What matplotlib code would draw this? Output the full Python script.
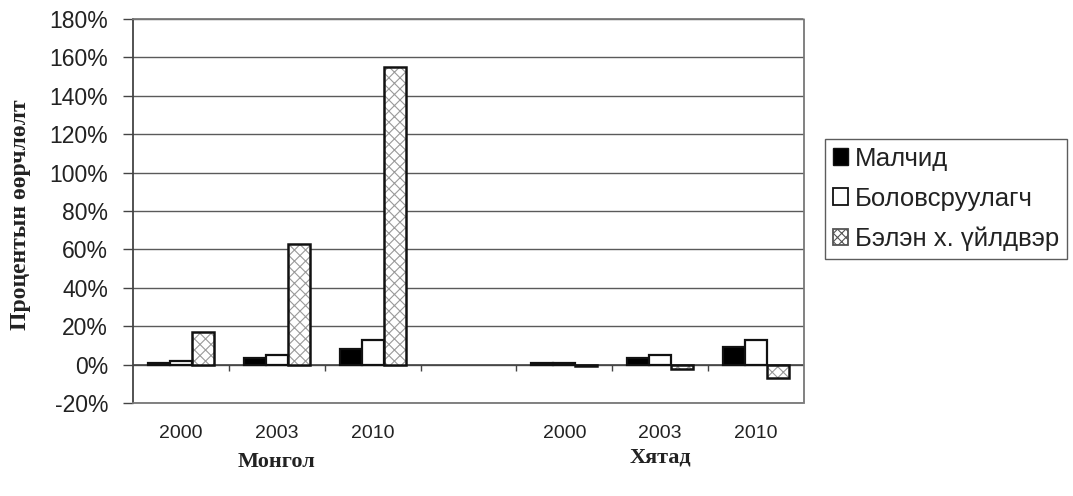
import matplotlib
matplotlib.use("Agg")
import matplotlib.pyplot as plt
import numpy as np
from matplotlib.transforms import blended_transform_factory
from matplotlib.patches import Patch

# Percentage change by value-chain segment, Mongolia vs China
years = ["2000", "2003", "2010"]
countries = ["Монгол", "Хятад"]
series_names = ["Малчид", "Боловсруулагч", "Бэлэн х. үйлдвэр"]

herders_mn = [1, 3.5, 8]
processors_mn = [2, 5, 13]
manufacturing_mn = [17, 63, 155]

herders_cn = [1, 3.5, 9]
processors_cn = [1, 5, 13]
manufacturing_cn = [-0.5, -2.5, -7]

y_ticks = [-20, 0, 20, 40, 60, 80, 100, 120, 140, 160, 180]

plt.rcParams["hatch.linewidth"] = 0.8

fig = plt.figure(figsize=(10.73, 4.96), dpi=100)
ax = fig.add_axes([133 / 1073, 1 - 403 / 496, (804 - 133) / 1073, (403 - 19) / 496])

# category slots: three Mongolian years, an empty slot, three Chinese years
mn_pos = np.arange(3)
cn_pos = np.arange(3) + 4
positions = np.concatenate([mn_pos, cn_pos])
labels = years + years

bw = 0.23
series = [
    (herders_mn + herders_cn, "black", None),
    (processors_mn + processors_cn, "white", None),
    (manufacturing_mn + manufacturing_cn, "white", "xxx"),
]
for i, (vals, fc, hatch) in enumerate(series):
    xs = positions + (i - 1) * bw
    if hatch:
        ax.bar(xs, vals, width=bw, color="white", edgecolor="#9a9a9a",
               hatch=hatch, linewidth=0, zorder=3)
        ax.bar(xs, vals, width=bw, fill=False, edgecolor="#111111",
               linewidth=1.8, zorder=4)
    else:
        ax.bar(xs, vals, width=bw, color=fc, edgecolor="#111111",
               linewidth=1.6, zorder=3)

ax.set_xlim(-0.5, 6.5)
ax.set_ylim(y_ticks[0], y_ticks[-1])
ax.set_yticks(y_ticks)
ax.set_yticklabels([f"{v}%" for v in y_ticks], fontfamily="Liberation Sans",
                   color="#222222")
ax.tick_params(axis="y", length=7, width=1, color="#444444", labelsize=16.5, pad=11)

ax.set_xticks(positions)
ax.set_xticklabels(labels, fontfamily="Liberation Sans", color="#222222")
ax.tick_params(axis="x", length=0, labelsize=14, pad=16)

ax.yaxis.grid(True, color="#5a5a5a", linewidth=1)
ax.set_axisbelow(True)

# category axis at zero with tick marks between slots
ax.axhline(0, color="#444444", linewidth=1.2, zorder=2)
bounds = np.arange(-0.5, 7.0, 1.0)[1:-1]
ax.vlines(bounds, -3.5, 0, color="#444444", linewidth=1, zorder=2)

for side in ["top", "right", "bottom"]:
    ax.spines[side].set_linestyle((0, (1.2, 1.0)))
    ax.spines[side].set_color("#777777")
    ax.spines[side].set_linewidth(1.3)
ax.spines["left"].set_color("#444444")
ax.spines["left"].set_linewidth(1.3)

# group labels under the year labels
trans = blended_transform_factory(ax.transData, fig.transFigure)
for name, pos, yy in zip(countries, [mn_pos, cn_pos], [462, 458]):
    ax.text(pos.mean(), 1 - yy / 496, name, transform=trans, ha="center",
            va="center", fontsize=16, fontweight="bold",
            fontfamily="Liberation Serif", color="#222222")

fig.text(21 / 1073, 1 - 215 / 496, "Процентын өөрчлөлт", rotation=90,
         ha="center", va="center", fontsize=17, fontweight="bold",
         fontfamily="Liberation Serif", color="#222222")

handles = [
    Patch(facecolor="black", edgecolor="#111111", linewidth=1),
    Patch(facecolor="white", edgecolor="#111111", linewidth=1.3),
    Patch(facecolor="white", edgecolor="#555555", hatch="xxxx", linewidth=1.3),
]
leg = fig.legend(handles, series_names, loc="upper left",
                 bbox_to_anchor=(825 / 1073, 1 - 139 / 496),
                 prop={"family": "Liberation Sans", "size": 18.5},
                 frameon=True, fancybox=False, edgecolor="#333333",
                 handlelength=0.6, handleheight=0.6, handletextpad=0.25,
                 labelspacing=0.62, borderpad=0.3, borderaxespad=0)
leg.get_frame().set_linewidth(1)
for t in leg.get_texts():
    t.set_color("#222222")

fig.savefig("out.png", dpi=100)
